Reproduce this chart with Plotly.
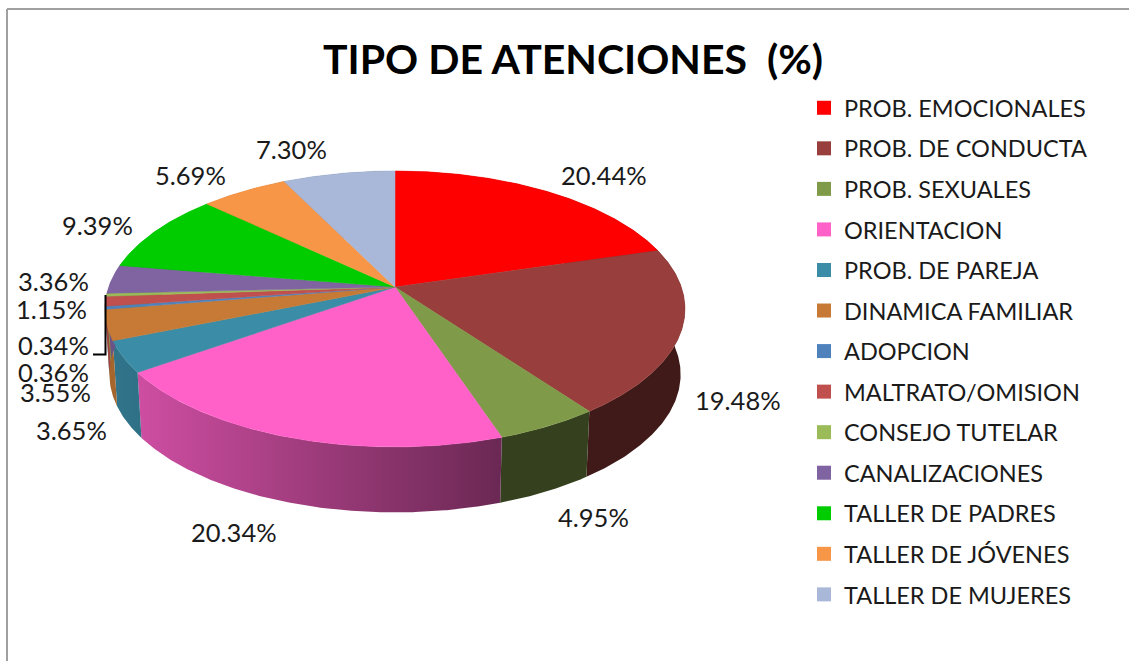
import numpy as np
import plotly.graph_objects as go

CATEGORIES = ["PROB. EMOCIONALES", "PROB. DE CONDUCTA", "PROB. SEXUALES", "ORIENTACION",
              "PROB. DE PAREJA", "DINAMICA FAMILIAR", "ADOPCION", "MALTRATO/OMISION",
              "CONSEJO TUTELAR", "CANALIZACIONES", "TALLER DE PADRES", "TALLER DE JÓVENES",
              "TALLER DE MUJERES"]
VALUES = [20.44, 19.48, 4.95, 20.34, 3.65, 3.55, 0.36, 1.15, 0.34, 3.36, 9.39, 5.69, 7.30]
COLORS = ["#FF0000", "#983F3D", "#7F9A48", "#FF61C8", "#3B8CA6", "#C67A35", "#4F81BD",
          "#C0504D", "#9BBB59", "#8064A2", "#00CC00", "#F79646", "#A9B8D9"]
LABEL_CENTERS = [(604, 175), (738, 400), (593, 517), (234, 532), (71, 430), (55, 392), (53, 372),
                 (51, 309), (53, 345), (53, 281), (97, 225), (190, 175), (291, 149)]

W, H = 1129, 661
CX, CY, A, B, K = 395, 287, 286.3, 134.5, 0.159
DEPTH, SHRINK = 65.5, 0.985
FONT = "Lato"


def rim(theta):
    u, v = np.sin(theta), -np.cos(theta)
    d = 1 - K * v
    return CX + A * u / d, CY + B * v / d


def shade(hex_color, x):
    f = np.interp(x, [110, 500], [0.84, 0.42])
    r, g, b = [int(hex_color[i:i + 2], 16) for i in (1, 3, 5)]
    return f"rgb({int(r * f)},{int(g * f)},{int(b * f)})"


fig = go.Figure()
total = sum(VALUES)
edges = np.cumsum([0] + VALUES) / total * 2 * np.pi
for i, (name, val, col) in enumerate(zip(CATEGORIES, VALUES, COLORS)):
    th = np.linspace(edges[i], edges[i + 1], max(8, int(val * 8)))
    x, y = rim(th)
    xb = CX + SHRINK * (x - CX)
    yb = y + DEPTH
    sx = np.r_[x, xb[::-1], x[0]]
    sy = np.r_[y, yb[::-1], y[0]]
    stops = np.linspace(0, 1, 6)
    xs = sx.min() + stops * (sx.max() - sx.min())
    fig.add_trace(go.Scatter(
        x=sx, y=sy, mode="lines", line=dict(width=0), fill="toself",
        fillgradient=dict(type="horizontal",
                          colorscale=[[float(s), shade(col, px)] for s, px in zip(stops, xs)]),
        hoverinfo="skip", showlegend=False))
for i, (name, val, col) in enumerate(zip(CATEGORIES, VALUES, COLORS)):
    th = np.linspace(edges[i], edges[i + 1], max(8, int(val * 8)))
    x, y = rim(th)
    fig.add_trace(go.Scatter(
        x=np.r_[CX, x, CX], y=np.r_[CY, y, CY], mode="lines", line=dict(width=0.5, color=col),
        fill="toself", fillcolor=col, name=name, text=f"{name}: {val:.2f}%", hoverinfo="text",
        showlegend=False))
for i, (name, col) in enumerate(zip(CATEGORIES, COLORS)):
    fig.add_trace(go.Scatter(
        x=[None], y=[None], mode="markers", name=name, legendgroup=name,
        marker=dict(symbol="square", size=14, color=col)))

for val, (lx, ly) in zip(VALUES, LABEL_CENTERS):
    fig.add_annotation(x=lx, y=ly, text=f"{val:.2f}%", showarrow=False,
                       font=dict(family=FONT, size=25.5, color="#1a1a1a"))

fig.update_layout(
    width=W, height=H, autosize=False,
    margin=dict(l=0, r=0, t=0, b=0),
    paper_bgcolor="white", plot_bgcolor="white",
    xaxis=dict(range=[0, W], visible=False, domain=[0, 1], fixedrange=True),
    yaxis=dict(range=[H, 0], visible=False, domain=[0, 1], fixedrange=True),
    title=dict(text="TIPO DE ATENCIONES\u00a0\u00a0(%)", x=573 / W, y=1 - 60 / H, xanchor="center",
               yanchor="middle", font=dict(family=FONT, size=41, color="black", weight="bold")),
    legend=dict(x=804 / W, y=1 - 86 / H, xanchor="left", yanchor="top", tracegroupgap=7,
                font=dict(family=FONT, size=23.5, color="#1a1a1a"), bgcolor="rgba(0,0,0,0)"),
    shapes=[
        dict(type="line", x0=7, x1=7, y0=9, y1=H, line=dict(color="#a0a0a0", width=2)),
        dict(type="line", x0=7, x1=W, y0=9, y1=9, line=dict(color="#a0a0a0", width=2)),
        dict(type="path", path="M 105.5 295 L 105.5 354.5 L 93 354.5", line=dict(color="black", width=2)),
    ],
)
fig.write_html("out.html", config={"displayModeBar": False},
               post_script="document.body.style.margin='0';document.body.style.overflow='hidden';")
